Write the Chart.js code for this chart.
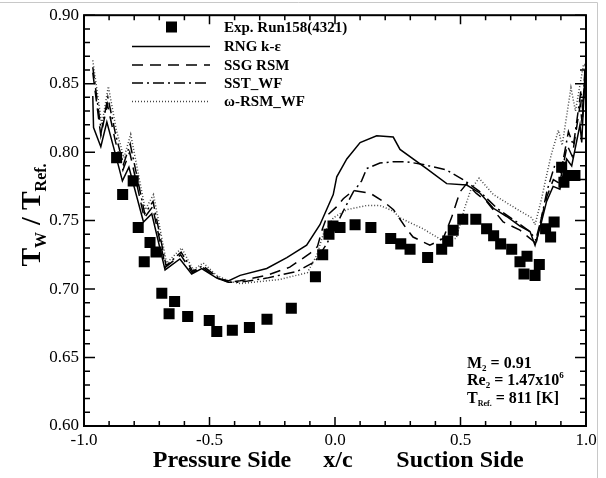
<!DOCTYPE html>
<html>
<head>
<meta charset="utf-8">
<script src="https://cdn.jsdelivr.net/npm/chart.js@4/dist/chart.umd.min.js"></script>
<style>
  body { margin: 0; background: #fff; }
  #wrap { width: 606px; height: 478px; position: relative; }
</style>
</head>
<body>
<div id="wrap"><canvas id="wall-temp"></canvas></div>
<script>
// experimental points
const expX = [-0.870,-0.846,-0.804,-0.784,-0.760,-0.737,-0.713,-0.690,-0.661,-0.639,-0.587,-0.501,-0.471,-0.409,-0.341,-0.271,-0.174,-0.078,-0.049,-0.024,-0.008,0.020,0.080,0.143,0.222,0.262,0.299,0.369,0.425,0.449,0.471,0.509,0.561,0.604,0.632,0.660,0.704,0.737,0.753,0.765,0.797,0.814,0.839,0.859,0.873,0.903,0.912,0.929,0.956];
const expY = [0.796,0.769,0.779,0.745,0.720,0.734,0.727,0.697,0.682,0.691,0.680,0.677,0.669,0.670,0.672,0.678,0.686,0.709,0.725,0.740,0.746,0.745,0.747,0.745,0.737,0.733,0.729,0.723,0.729,0.735,0.743,0.751,0.751,0.744,0.739,0.733,0.729,0.720,0.711,0.724,0.710,0.718,0.744,0.738,0.749,0.789,0.778,0.783,0.783];

// RNG k-e
const rngX = [-0.965,-0.962,-0.933,-0.909,-0.877,-0.847,-0.821,-0.763,-0.730,-0.677,-0.618,-0.571,-0.531,-0.471,-0.425,-0.378,-0.272,-0.192,-0.113,-0.060,-0.007,0.007,0.047,0.100,0.166,0.232,0.259,0.365,0.445,0.525,0.578,0.631,0.684,0.737,0.777,0.797,0.817,0.843,0.869,0.896,0.923,0.943,0.976,0.983,0.996];
const rngY = [0.841,0.818,0.804,0.822,0.800,0.779,0.789,0.749,0.755,0.714,0.722,0.711,0.715,0.708,0.706,0.710,0.715,0.723,0.732,0.747,0.769,0.782,0.795,0.807,0.812,0.811,0.802,0.788,0.777,0.776,0.770,0.759,0.753,0.746,0.742,0.732,0.745,0.764,0.775,0.773,0.795,0.790,0.820,0.807,0.858];

// SSG RSM
const ssgX = [-0.965,-0.933,-0.907,-0.875,-0.845,-0.818,-0.760,-0.727,-0.675,-0.615,-0.569,-0.529,-0.471,-0.425,-0.378,-0.272,-0.180,-0.100,-0.070,-0.050,-0.030,0.006,0.033,0.073,0.140,0.193,0.233,0.285,0.311,0.378,0.431,0.464,0.498,0.525,0.562,0.604,0.670,0.737,0.797,0.817,0.845,0.870,0.895,0.925,0.945,0.977,0.985,0.997];
const ssgY = [0.858,0.812,0.835,0.808,0.787,0.800,0.752,0.760,0.716,0.725,0.712,0.716,0.708,0.705,0.706,0.710,0.716,0.726,0.731,0.744,0.754,0.760,0.766,0.772,0.770,0.764,0.758,0.744,0.738,0.732,0.737,0.752,0.771,0.777,0.770,0.764,0.749,0.743,0.734,0.748,0.768,0.780,0.777,0.805,0.797,0.835,0.820,0.862];

// SST_WF
const sstX = [-0.965,-0.931,-0.905,-0.873,-0.843,-0.816,-0.758,-0.725,-0.673,-0.613,-0.567,-0.527,-0.471,-0.425,-0.378,-0.272,-0.150,-0.080,-0.033,-0.007,0.033,0.073,0.106,0.126,0.179,0.232,0.285,0.351,0.444,0.510,0.578,0.645,0.724,0.777,0.803,0.820,0.845,0.875,0.900,0.930,0.950,0.980,0.987,0.997];
const sstY = [0.862,0.815,0.840,0.812,0.791,0.806,0.755,0.764,0.717,0.727,0.713,0.717,0.709,0.705,0.705,0.708,0.713,0.720,0.733,0.742,0.757,0.771,0.779,0.788,0.792,0.793,0.793,0.791,0.787,0.780,0.771,0.759,0.749,0.742,0.735,0.750,0.772,0.790,0.785,0.815,0.805,0.845,0.830,0.865];

// omega-RSM_WF
const omgX = [-0.965,-0.929,-0.903,-0.871,-0.841,-0.814,-0.756,-0.723,-0.671,-0.611,-0.565,-0.525,-0.471,-0.425,-0.378,-0.220,-0.110,-0.072,-0.047,-0.007,0.047,0.126,0.179,0.232,0.259,0.351,0.423,0.483,0.516,0.542,0.574,0.631,0.684,0.737,0.784,0.797,0.823,0.837,0.860,0.890,0.905,0.940,0.958,0.990,0.997];
const omgY = [0.867,0.820,0.848,0.816,0.796,0.813,0.758,0.769,0.719,0.730,0.714,0.719,0.710,0.706,0.704,0.707,0.712,0.725,0.740,0.752,0.758,0.761,0.761,0.757,0.752,0.744,0.736,0.737,0.759,0.773,0.781,0.769,0.763,0.757,0.752,0.747,0.766,0.778,0.797,0.816,0.805,0.847,0.830,0.864,0.855];

const seriesNames = ["Exp. Run158(4321)", "RNG k-\u03b5", "SSG RSM", "SST_WF", "\u03c9-RSM_WF"];
const xTickLabels = ["-1.0", "-0.5", "0.0", "0.5", "1.0"];
const yTickLabels = ["0.60", "0.65", "0.70", "0.75", "0.80", "0.85", "0.90"];

const pts = (xs, ys) => xs.map((x, i) => ({ x: x, y: ys[i] }));
const SERIF = "'Liberation Serif', 'DejaVu Serif', serif";

const lineSet = (label, xs, ys, dash, color) => ({
  type: "line",
  label: label,
  data: pts(xs, ys),
  borderColor: color,
  borderWidth: 1.5,
  borderDash: dash,
  pointRadius: 0,
  tension: 0,
  fill: false,
});

// draw a run of text pieces [text, size, dy] left to right
function drawRun(ctx, pieces, x, y) {
  let cx = x;
  pieces.forEach((p) => {
    ctx.font = "bold " + p[1] + "px " + SERIF;
    ctx.fillText(p[0], cx, y + (p[2] || 0));
    cx += ctx.measureText(p[0]).width;
  });
  return cx - x;
}
function runWidth(ctx, pieces) {
  let w = 0;
  pieces.forEach((p) => {
    ctx.font = "bold " + p[1] + "px " + SERIF;
    w += ctx.measureText(p[0]).width;
  });
  return w;
}

const decorPlugin = {
  id: "decor",
  afterDraw(chart) {
    const ctx = chart.ctx;
    const a = chart.chartArea;
    const xs = chart.scales.x;
    const ys = chart.scales.y;
    ctx.save();

    // outer light frame of the picture
    ctx.strokeStyle = "#c8c8c8";
    ctx.lineWidth = 1;
    ctx.beginPath();
    ctx.moveTo(0, 2.5); ctx.lineTo(597.5, 2.5); ctx.lineTo(597.5, 478);
    ctx.stroke();

    // plot frame
    ctx.strokeStyle = "#000";
    ctx.lineWidth = 2;
    ctx.strokeRect(a.left, a.top, a.right - a.left, a.bottom - a.top);

    // inward ticks
    ctx.lineWidth = 1.5;
    ctx.beginPath();
    for (let i = 0; i <= 20; i++) {
      const v = -1 + i * 0.1;
      const px = xs.getPixelForValue(v);
      const len = i % 5 === 0 ? 9 : 5;
      ctx.moveTo(px, a.bottom); ctx.lineTo(px, a.bottom - len);
      ctx.moveTo(px, a.top); ctx.lineTo(px, a.top + len);
    }
    for (let i = 0; i <= 30; i++) {
      const v = 0.6 + i * 0.01;
      const py = ys.getPixelForValue(v);
      const len = i % 5 === 0 ? 11 : 6;
      ctx.moveTo(a.left, py); ctx.lineTo(a.left + len, py);
      ctx.moveTo(a.right, py); ctx.lineTo(a.right - len, py);
    }
    ctx.stroke();

    // legend inside the plot
    const ds = chart.data.datasets;
    const lx0 = 132, lx1 = 210, tx = 224;
    const rows = [27, 46.5, 65, 83, 101.5];
    ctx.fillStyle = "#000";
    ctx.fillRect(171.5 - 5.5, rows[0] - 5.5, 11, 11);
    for (let i = 1; i < ds.length; i++) {
      ctx.strokeStyle = ds[i].borderColor;
      ctx.lineWidth = ds[i].borderWidth;
      ctx.setLineDash(ds[i].borderDash || []);
      ctx.beginPath();
      ctx.moveTo(lx0, rows[i]); ctx.lineTo(lx1, rows[i]);
      ctx.stroke();
    }
    ctx.setLineDash([]);
    ctx.fillStyle = "#000";
    ctx.textBaseline = "middle";
    ctx.textAlign = "left";
    ctx.font = "bold 15px " + SERIF;
    for (let i = 0; i < ds.length; i++) {
      ctx.fillText(seriesNames[i], tx, rows[i] + 1);
    }

    // flow conditions
    ctx.textBaseline = "alphabetic";
    drawRun(ctx, [["M", 16], ["2", 9, 3], [" = 0.91", 16]], 467, 368);
    drawRun(ctx, [["Re", 16], ["2", 9, 3], [" = 1.47x10", 16], ["6", 9, -7]], 467, 385);
    drawRun(ctx, [["T", 16], ["Ref.", 8, 3], [" = 811 [K]", 16]], 467, 403);

    // x axis title
    ctx.font = "bold 24px " + SERIF;
    ctx.textAlign = "center";
    ctx.fillText("Pressure Side", 222, 467);
    ctx.fillText("x/c", 338, 467);
    ctx.fillText("Suction Side", 460, 467);

    // y axis title, rotated
    const yt = [["T", 28], ["W", 16, 6], [" / ", 28], ["T", 28], ["Ref.", 16, 6]];
    ctx.textAlign = "left";
    ctx.translate(40, 215);
    ctx.rotate(-Math.PI / 2);
    drawRun(ctx, yt, -runWidth(ctx, yt) / 2, 0);
    ctx.restore();
  },
};

const ctx = document.getElementById("wall-temp").getContext("2d");
const chart = new Chart(ctx, {
  type: "scatter",
  data: {
    datasets: [
      {
        type: "scatter",
        label: seriesNames[0],
        data: pts(expX, expY),
        pointStyle: "rect",
        pointRadius: 7.8,
        pointBackgroundColor: "#000",
        pointBorderColor: "#000",
        pointBorderWidth: 0,
      },
      lineSet(seriesNames[1], rngX, rngY, [], "#000"),
      lineSet(seriesNames[2], ssgX, ssgY, [11, 7], "#000"),
      lineSet(seriesNames[3], sstX, sstY, [11, 4, 2, 4], "#000"),
      lineSet(seriesNames[4], omgX, omgY, [1, 2], "#444"),
    ],
  },
  options: {
    responsive: true,
    maintainAspectRatio: false,
    animation: false,
    layout: { padding: { top: 12, right: 20, left: 0, bottom: 0 } },
    plugins: {
      legend: { display: false },
      tooltip: { enabled: false },
    },
    scales: {
      x: {
        type: "linear",
        min: -1,
        max: 1,
        grid: { display: false, drawTicks: false },
        border: { display: false },
        ticks: {
          stepSize: 0.5,
          padding: 4,
          color: "#000",
          font: { family: SERIF, size: 17 },
          callback: (v) => xTickLabels[Math.round((v + 1) / 0.5)],
        },
        afterFit: (s) => { s.height = 52; },
      },
      y: {
        type: "linear",
        min: 0.6,
        max: 0.9,
        grid: { display: false, drawTicks: false },
        border: { display: false },
        ticks: {
          stepSize: 0.05,
          padding: 5,
          color: "#000",
          font: { family: SERIF, size: 17 },
          callback: (v) => yTickLabels[Math.round((v - 0.6) / 0.05)],
        },
        afterFit: (s) => { s.width = 84; },
      },
    },
  },
  plugins: [decorPlugin],
});
</script>
</body>
</html>
